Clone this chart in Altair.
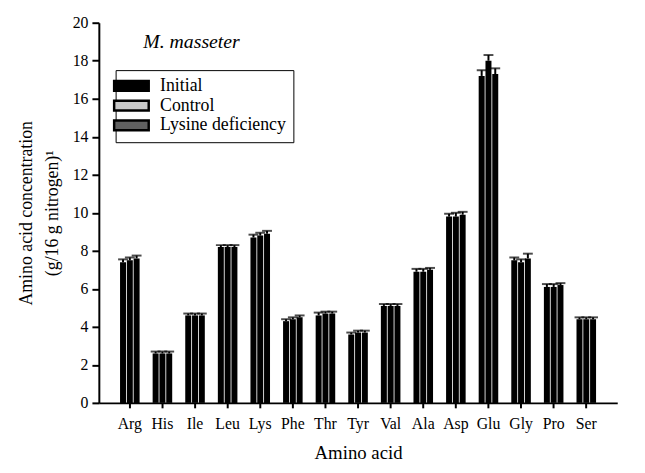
import altair as alt
import pandas as pd

amino = ["Arg", "His", "Ile", "Leu", "Lys", "Phe", "Thr", "Tyr", "Val",
         "Ala", "Asp", "Glu", "Gly", "Pro", "Ser"]
series = ["Initial", "Control", "Lysine deficiency"]
initial = [7.4, 2.6, 4.6, 8.2, 8.7, 4.3, 4.6, 3.6, 5.1, 6.9, 9.8, 17.2, 7.5, 6.1, 4.4]
control = [7.5, 2.6, 4.6, 8.2, 8.8, 4.4, 4.7, 3.7, 5.1, 6.9, 9.8, 18.0, 7.4, 6.1, 4.4]
lysine = [7.6, 2.6, 4.6, 8.2, 8.9, 4.5, 4.7, 3.7, 5.1, 7.0, 9.9, 17.3, 7.6, 6.2, 4.4]
initial_err = [0.15, 0.1, 0.1, 0.1, 0.15, 0.1, 0.15, 0.1, 0.1, 0.15, 0.15, 0.3, 0.15, 0.15, 0.1]
control_err = [0.15, 0.1, 0.1, 0.1, 0.15, 0.1, 0.1, 0.1, 0.1, 0.15, 0.2, 0.3, 0.15, 0.15, 0.1]
lysine_err = [0.15, 0.1, 0.1, 0.1, 0.15, 0.1, 0.1, 0.1, 0.1, 0.1, 0.15, 0.3, 0.25, 0.1, 0.1]
y_ticks = [0, 2, 4, 6, 8, 10, 12, 14, 16, 18, 20]

rows = []
for s, vals, errs in zip(series, [initial, control, lysine], [initial_err, control_err, lysine_err]):
    for a, v, e in zip(amino, vals, errs):
        rows.append({"amino": a, "series": s, "value": v, "top": v + e})
df = pd.DataFrame(rows)

FONT = "Liberation Serif"

x_enc = alt.X("amino:N", sort=amino,
              scale=alt.Scale(paddingInner=0.4, paddingOuter=0.65),
              axis=alt.Axis(title="Amino acid", labelAngle=0, labelFontSize=16,
                            labelPadding=8, titleFontSize=19, titlePadding=12,
                            titleFontWeight="normal", labelFont=FONT, titleFont=FONT))
xo_enc = alt.XOffset("series:N", sort=series, scale=alt.Scale(paddingInner=0.12))
y_scale = alt.Scale(domain=[0, 20])
y_axis = alt.Axis(title=["Amino acid concentration", "(g/16 g nitrogen)¹"],
                  values=y_ticks, labelFontSize=16, labelOverlap=False,
                  labelPadding=4, tickSize=7,
                  titleFontSize=18, titleFontWeight="normal", titlePadding=11,
                  titleLineHeight=26,
                  labelFont=FONT, titleFont=FONT, grid=False)

base = alt.Chart(df).encode(x=x_enc, xOffset=xo_enc)

bars = base.mark_bar(color="black").encode(
    y=alt.Y("value:Q", scale=y_scale, axis=y_axis))
rules = base.mark_rule(color="black", strokeWidth=2).encode(
    y=alt.Y("value:Q", scale=y_scale, axis=y_axis), y2="top:Q")
caps = base.mark_tick(color="black", thickness=2, size=10).encode(
    y=alt.Y("top:Q", scale=y_scale, axis=y_axis))

legend_layer = base.mark_square(opacity=0, size=1).encode(
    y=alt.Y("value:Q", scale=y_scale, axis=y_axis),
    color=alt.Color("series:N", sort=series,
                    scale=alt.Scale(domain=series, range=["#000000", "#c8c8c8", "#606060"]),
                    legend=alt.Legend(title=None, orient="none", legendX=17, legendY=48,
                                      symbolType="M-3.5,-1H3.5V1H-3.5Z",
                                      symbolSize=100, symbolOpacity=1,
                                      symbolStrokeColor="black", symbolStrokeWidth=2.5,
                                      strokeColor="black", fillColor="white",
                                      padding=7, labelFont=FONT, labelFontSize=18,
                                      labelColor="black", rowPadding=0, labelOffset=20))
)

title_text = alt.Chart(pd.DataFrame({"t": ["M. masseter"]})).mark_text(
    font=FONT, fontSize=20, fontStyle="italic", align="left", baseline="middle",
    color="black").encode(x=alt.value(45), y=alt.value(20), text="t:N")

chart = alt.layer(bars, rules, caps, legend_layer, title_text).properties(
    width=525, height=385,
    autosize="none",
    background="white",
    padding={"left": 92, "top": 12, "right": 20, "bottom": 60},
).configure(font=FONT).configure_view(stroke=None).configure_axis(
    domainColor="black", domainWidth=2, tickColor="black", tickWidth=2, tickSize=5,
    labelFont=FONT, titleFont=FONT, labelColor="black", titleColor="black",
).configure_legend(labelFont=FONT)

chart.save("out.html", embed_options={"renderer": "svg", "actions": False})
